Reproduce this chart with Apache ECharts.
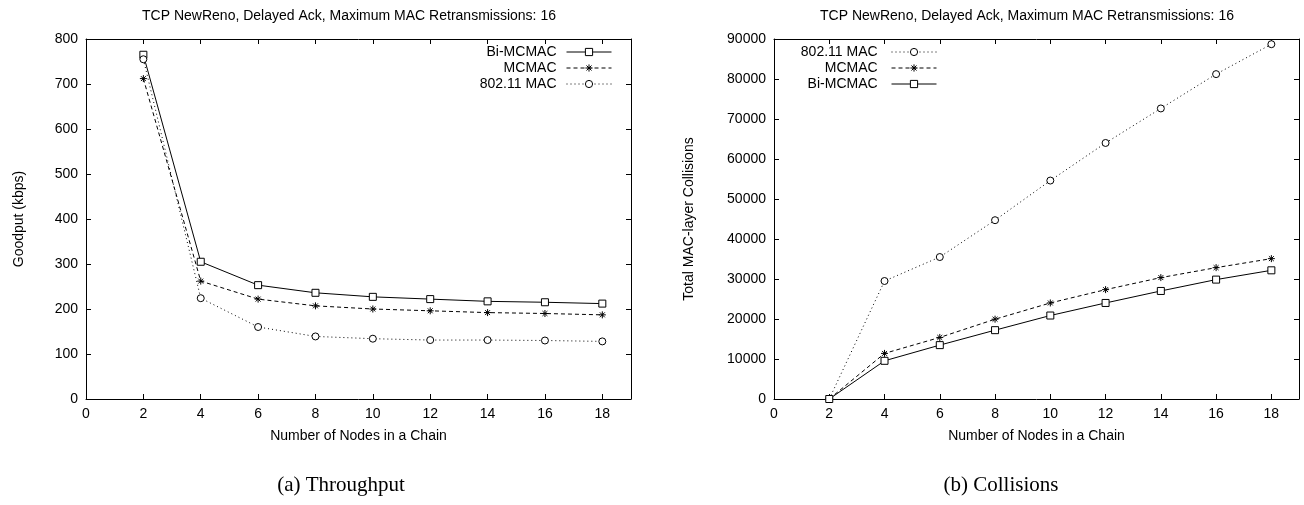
<!DOCTYPE html>
<html>
<head>
<meta charset="utf-8">
<script src="https://cdn.jsdelivr.net/npm/echarts@6/dist/echarts.min.js"></script>
<style>
  html, body { margin: 0; padding: 0; background: #fff; }
  #chart { width: 1304px; height: 505px; }
</style>
</head>
<body>
<div id="chart"></div>
<script>
// x values (number of nodes in a chain)
const nodes = [2, 4, 6, 8, 10, 12, 14, 16, 18];

// (a) throughput, goodput in kbps
const goodBiMcmac = [765, 305, 253, 236, 227, 222, 217, 215, 212];
const goodMcmac = [712, 262, 222, 207, 200, 196, 192, 190, 187];
const good80211 = [755, 224, 160, 139, 134, 131, 131, 130, 128];

// (b) collisions, total MAC-layer collisions
const collBiMcmac = [0, 9550, 13470, 17210, 20870, 24010, 27010, 29850, 32170];
const collMcmac = [0, 11400, 15390, 19950, 24010, 27340, 30350, 32840, 35090];
const coll80211 = [0, 29500, 35490, 44700, 54610, 64010, 72640, 81220, 88700];

const titleText = "TCP NewReno, Delayed Ack, Maximum MAC Retransmissions: 16";
const xName = "Number of Nodes in a Chain";

const font = "Liberation Sans";
const starPath = "path://M5,0L5,10M0,5L10,5M1.5,1.5L8.5,8.5M1.5,8.5L8.5,1.5";

function pairs(ys) {
  return nodes.map((x, i) => [x, ys[i]]);
}

function bottomX(grid) {
  return {
    type: "value", gridIndex: grid, min: 0, max: 19, interval: 2,
    name: xName, nameLocation: "middle", nameGap: 30,
    nameTextStyle: { fontFamily: font, fontSize: 14, color: "#000" },
    axisLine: { show: true, onZero: false, lineStyle: { color: "#000", width: 1 } },
    axisTick: { show: true, inside: true, length: 5, lineStyle: { color: "#000" } },
    axisLabel: {
      fontFamily: font, fontSize: 14, color: "#000", margin: 8,
      formatter: (v) => (v === 19 ? "" : String(v)),
    },
    splitLine: { show: false },
  };
}

function topX(grid) {
  return {
    type: "value", gridIndex: grid, position: "top", min: 0, max: 19, interval: 2,
    axisLine: { show: true, onZero: false, lineStyle: { color: "#000", width: 1 } },
    axisTick: { show: true, inside: true, length: 5, lineStyle: { color: "#000" } },
    axisLabel: { show: false },
    splitLine: { show: false },
  };
}

function leftY(grid, max, interval, name, gap) {
  return {
    type: "value", gridIndex: grid, min: 0, max: max, interval: interval,
    name: name, nameLocation: "middle", nameGap: gap, nameRotate: 90,
    nameTextStyle: { fontFamily: font, fontSize: 14, color: "#000" },
    axisLine: { show: true, onZero: false, lineStyle: { color: "#000", width: 1 } },
    axisTick: { show: true, inside: true, length: 5, lineStyle: { color: "#000" } },
    axisLabel: {
      fontFamily: font, fontSize: 14, color: "#000", margin: 8,
      formatter: (v) => String(v),
    },
    splitLine: { show: false },
  };
}

function rightY(grid, max, interval) {
  return {
    type: "value", gridIndex: grid, position: "right", min: 0, max: max, interval: interval,
    axisLine: { show: true, onZero: false, lineStyle: { color: "#000", width: 1 } },
    axisTick: { show: true, inside: true, length: 5, lineStyle: { color: "#000" } },
    axisLabel: { show: false },
    splitLine: { show: false },
  };
}

function line(name, data, xi, yi, symbol, dash) {
  return {
    name: name, type: "line", xAxisIndex: xi, yAxisIndex: yi,
    data: pairs(data),
    symbol: symbol, symbolSize: 7,
    showAllSymbol: true,
    lineStyle: { color: "#000", width: 1, type: dash },
    itemStyle: { color: "#fff", borderColor: "#000", borderWidth: 1 },
    emphasis: { disabled: true },
  };
}

function legend(names, right) {
  return {
    data: names,
    orient: "vertical", align: "right", right: right, top: 45, padding: 0,
    itemWidth: 45, itemHeight: 9, itemGap: 2,
    lineStyle: { width: 1 },
    itemStyle: { borderWidth: 1 },
    textStyle: { fontFamily: font, fontSize: 14, color: "#000", padding: [0, 5, 0, 0] },
    selectedMode: false,
  };
}

const chart = echarts.init(document.getElementById("chart"));

chart.setOption({
  animation: false,
  backgroundColor: "#fff",
  title: [
    { text: titleText, left: 344, top: 4, textAlign: "center",
      textStyle: { fontFamily: font, fontSize: 14, fontWeight: "normal", color: "#000" } },
    { text: titleText, left: 1022, top: 4, textAlign: "center",
      textStyle: { fontFamily: font, fontSize: 14, fontWeight: "normal", color: "#000" } },
    { text: "(a) Throughput", left: 336, top: 470, textAlign: "center",
      textStyle: { fontFamily: "Liberation Serif", fontSize: 21, fontWeight: "normal", color: "#000" } },
    { text: "(b) Collisions", left: 996, top: 470, textAlign: "center",
      textStyle: { fontFamily: "Liberation Serif", fontSize: 21, fontWeight: "normal", color: "#000" } },
  ],
  legend: [
    legend(["Bi-MCMAC", "MCMAC", "802.11 MAC"], 692),
    legend(["802.11 MAC ", "MCMAC ", "Bi-MCMAC "], 367),
  ],
  grid: [
    { left: 86, top: 39, width: 545, height: 360 },
    { left: 774, top: 39, width: 525, height: 360 },
  ],
  xAxis: [bottomX(0), topX(0), bottomX(1), topX(1)],
  yAxis: [
    leftY(0, 800, 100, "Goodput (kbps)", 60),
    rightY(0, 800, 100),
    leftY(1, 90000, 10000, "Total MAC-layer Collisions", 78),
    rightY(1, 90000, 10000),
  ],
  series: [
    line("Bi-MCMAC", goodBiMcmac, 0, 0, "rect", "solid"),
    line("MCMAC", goodMcmac, 0, 0, starPath, [4, 3]),
    line("802.11 MAC", good80211, 0, 0, "circle", [1, 3]),
    line("802.11 MAC ", coll80211, 2, 2, "circle", [1, 3]),
    line("MCMAC ", collMcmac, 2, 2, starPath, [4, 3]),
    line("Bi-MCMAC ", collBiMcmac, 2, 2, "rect", "solid"),
  ],
});

window.addEventListener("resize", () => chart.resize());
</script>
</body>
</html>
